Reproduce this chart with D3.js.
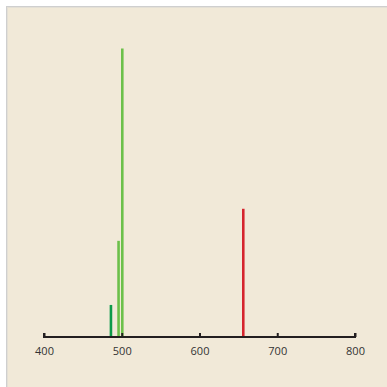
<!DOCTYPE html>
<html>
<head>
<meta charset="utf-8">
<script src="https://cdn.jsdelivr.net/npm/d3@7"></script>
<style>
  html, body { margin: 0; padding: 0; background: #fff; }
  svg { display: block; }
</style>
</head>
<body>
<div id="chart"></div>
<script>
// emission lines: wavelength (nm), relative height, colour
const wavelengths = [486.1, 495.9, 500.7, 656.3];
const intensities = [1, 3, 9, 4];
const lineColors = ['#0d9a4a', '#6cc04a', '#6cc04a', '#d5242e'];
const tickValues = [400, 500, 600, 700, 800];

const W = 387, H = 387;
const svg = d3.select('#chart').append('svg')
  .attr('width', W).attr('height', H);

// panel with grey edge top/left
svg.append('rect').attr('x', 6).attr('y', 6).attr('width', W).attr('height', H)
  .attr('fill', '#cfcfcf');
svg.append('rect').attr('x', 7).attr('y', 7).attr('width', W).attr('height', H)
  .attr('fill', '#e4e0d6');
svg.append('rect').attr('x', 8).attr('y', 8).attr('width', W).attr('height', H)
  .attr('fill', '#f1e9d8');

const x = d3.scaleLinear().domain([400, 800]).range([44, 355]);
const y = d3.scaleLinear().domain([0, 9]).range([337, 48.5]);

const lines = wavelengths.map((w, i) => ({w: w, v: intensities[i], c: lineColors[i]}));

svg.selectAll('line.em')
  .data(lines)
  .join('line')
  .attr('class', 'em')
  .attr('x1', d => x(d.w)).attr('x2', d => x(d.w))
  .attr('y1', y(0)).attr('y2', d => y(d.v))
  .attr('stroke', d => d.c)
  .attr('stroke-width', 2.6);

const axis = d3.axisTop(x)
  .tickValues(tickValues)
  .tickSize(4)
  .tickFormat(d3.format('d'));

const g = svg.append('g')
  .attr('transform', `translate(0,${y(0)})`)
  .call(axis);
g.select('.domain').attr('stroke', '#231f20').attr('stroke-width', 2)
  .attr('d', `M${x(400)},-4V0H${x(800)}V-4`);
g.selectAll('.tick line').attr('stroke', '#231f20').attr('stroke-width', 2);
g.selectAll('.tick text')
  .attr('y', 17.5)
  .attr('fill', '#333')
  .attr('font-family', '"Open Sans", "Noto Sans", sans-serif')
  .attr('font-size', 11);
</script>
</body>
</html>
